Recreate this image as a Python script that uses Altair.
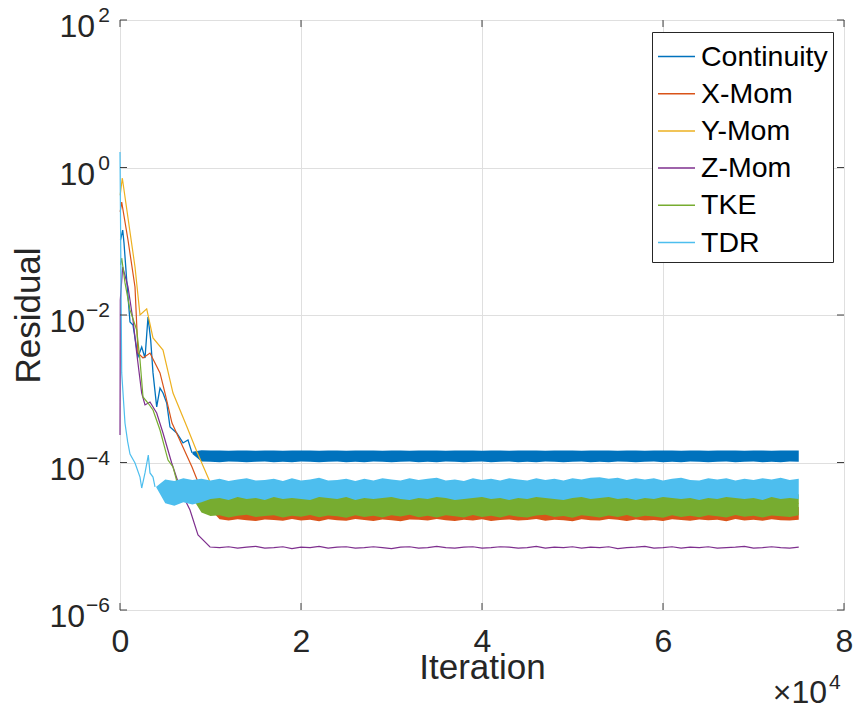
import altair as alt
import pandas as pd

F = "Liberation Sans, Arial, Helvetica, sans-serif"
TXT = "#262626"

SERIES = ["Continuity", "X-Mom", "Y-Mom", "Z-Mom", "TKE", "TDR"]
COLORS = ["#0072BD", "#D95319", "#EDB120", "#7E2F8E", "#77AC30", "#4DBEEE"]

# ---- transient part: iteration / residual ----
CONT_IT = [55, 298, 442, 740, 1105, 1437, 1989, 2398, 2763, 3094, 3392, 3647, 4055, 4420, 4752, 5160, 5525, 6265, 6962, 7514, 7956]
CONT_VAL = [0.104, 0.142, 0.0946, 0.0298, 0.00804, 0.00731, 0.0027, 0.00368, 0.00261, 0.0094, 0.00458, 0.00164,
            5.66e-4, 1.02e-3, 8.75e-4, 6.41e-4, 3.03e-4, 2.51e-4, 1.84e-4, 2.02e-4, 1.35e-4]
XMOM_IT = [20, 188, 884, 1658, 1989, 2542, 3315, 4420, 4973, 5746, 6851, 7956, 8619, 9614]
XMOM_VAL = [0.25, 0.34, 0.104, 0.024, 0.00305, 0.00261, 0.00305, 0.00164, 8.75e-4, 3.43e-4, 1.73e-4, 8.7e-5, 5.44e-5, 2.82e-5]
YMOM_IT = [20, 254, 1658, 2210, 2950, 3647, 4752, 5857, 7404, 8509, 9945]
YMOM_VAL = [0.42, 0.72, 0.0448, 0.010, 0.0121, 0.00488, 0.00335, 8.75e-4, 3.03e-4, 1.39e-4, 5.44e-5]
ZMOM_IT = [0, 33, 298, 884, 1437, 1845, 2398, 2763, 3315, 4055, 4752, 5713, 6818, 7735, 8619, 9945]
ZMOM_VAL = [2.36e-4, 0.016, 0.0448, 0.024, 0.00855, 0.00305, 8.75e-4, 6.03e-4, 6.61e-4, 4.69e-4, 2.51e-4,
            9.84e-5, 3.86e-5, 2.27e-5, 1.04e-5, 7.15e-6]
TKE_IT = [55, 188, 553, 1105, 1845, 2210, 2542, 3094, 3647, 4420, 5304, 5857, 6299, 7735]
TKE_VAL = [0.0477, 0.0593, 0.0272, 0.0117, 0.00627, 0.00245, 7.73e-4, 6.41e-4, 5.15e-4, 2.76e-4, 1.08e-4, 8.7e-5, 5.44e-5, 3.41e-5]
TDR_IT = [0, 188, 553, 850, 1105, 1658, 2210, 2398, 2763, 3127, 3315, 3647, 3868]
TDR_VAL = [1.62, 1.64e-3, 3.4e-4, 1.9e-4, 1.3e-4, 9.84e-5, 6.35e-5, 4.51e-5, 7.21e-5, 1.26e-4, 7.21e-5, 6.35e-5, 4.66e-5]

# ---- steady part: one value every 1000 iterations ----
CONT_START = 8000   # x 1e-4
CONT_HI = [1.40, 1.47, 1.45, 1.46, 1.44, 1.45, 1.46, 1.44, 1.45, 1.46,
           1.44, 1.45, 1.46, 1.45, 1.44, 1.46, 1.45, 1.44, 1.45, 1.46,
           1.45, 1.44, 1.46, 1.45, 1.44, 1.45, 1.46, 1.45, 1.44, 1.45,
           1.46, 1.45, 1.44, 1.45, 1.46, 1.44, 1.45, 1.46, 1.45, 1.44,
           1.45, 1.46, 1.45, 1.44, 1.45, 1.46, 1.45, 1.44, 1.46, 1.45,
           1.44, 1.45, 1.46, 1.45, 1.44, 1.45, 1.46, 1.44, 1.45, 1.46,
           1.45, 1.44, 1.46, 1.45, 1.44, 1.45, 1.46, 1.45]
CONT_LO = [1.30, 1.03, 1.02, 1.01, 1.03, 1.02, 1.01, 1.02, 1.03, 1.01,
           1.02, 1.01, 1.03, 1.02, 1.01, 1.02, 1.03, 1.01, 1.02, 1.01,
           1.03, 1.02, 1.01, 1.02, 1.03, 1.01, 1.02, 1.01, 1.03, 1.02,
           1.01, 1.02, 1.03, 1.01, 1.02, 1.03, 1.01, 1.02, 1.01, 1.03,
           1.02, 1.01, 1.02, 1.03, 1.01, 1.02, 1.01, 1.03, 1.02, 1.01,
           1.02, 1.03, 1.01, 1.02, 1.01, 1.03, 1.02, 1.01, 1.02, 1.03,
           1.01, 1.02, 1.03, 1.01, 1.02, 1.01, 1.03, 1.02]
XMOM_START = 10000  # x 1e-5
XMOM_HI = [2.6, 2.4, 2.3, 2.5, 2.4, 2.3, 2.4, 2.5, 2.3, 2.4,
           2.5, 2.3, 2.4, 2.3, 2.5, 2.4, 2.3, 2.4, 2.5, 2.4,
           2.3, 2.4, 2.5, 2.3, 2.4, 2.5, 2.4, 2.3, 2.4, 2.5,
           2.3, 2.4, 2.5, 2.4, 2.3, 2.4, 2.5, 2.3, 2.4, 2.4,
           2.5, 2.3, 2.4, 2.5, 2.4, 2.3, 2.4, 2.5, 2.3, 2.4,
           2.4, 2.5, 2.3, 2.4, 2.5, 2.4, 2.3, 2.4, 2.5, 2.3,
           2.4, 2.5, 2.4, 2.3, 2.4, 2.5]
XMOM_LO = [2.30, 1.70, 1.64, 1.70, 1.65, 1.61, 1.69, 1.66, 1.62, 1.71,
           1.64, 1.68, 1.60, 1.70, 1.65, 1.62, 1.71, 1.66, 1.61, 1.69,
           1.65, 1.60, 1.69, 1.67, 1.63, 1.72, 1.65, 1.61, 1.68, 1.64,
           1.70, 1.61, 1.66, 1.69, 1.63, 1.66, 1.71, 1.62, 1.68, 1.65,
           1.60, 1.70, 1.65, 1.63, 1.71, 1.67, 1.61, 1.69, 1.64, 1.66,
           1.61, 1.70, 1.66, 1.62, 1.69, 1.65, 1.68, 1.60, 1.71, 1.64,
           1.67, 1.62, 1.70, 1.65, 1.63, 1.68]
YMOM_START = 11000  # x 1e-5
YMOM_SS = [2.8, 2.5, 2.9, 2.4, 2.7, 2.6, 3.0, 2.5, 2.8, 2.3,
           2.7, 2.9, 2.4, 2.6, 2.8, 2.5, 3.0, 2.7, 2.4, 2.9,
           2.6, 2.8, 2.3, 2.7, 2.5, 2.9, 2.6, 2.8, 2.4, 3.0,
           2.7, 2.5, 2.9, 2.6, 2.8, 2.4, 2.7, 2.9, 2.5, 2.6,
           2.8, 2.3, 2.7, 3.0, 2.5, 2.8, 2.6, 2.9, 2.4, 2.7,
           2.5, 2.8, 2.6, 3.0, 2.4, 2.7, 2.9, 2.5, 2.8, 2.6,
           2.7, 2.4, 2.9, 2.6, 2.8]
ZMOM_START = 11000  # x 1e-6
ZMOM_SS = [7.0, 7.2, 6.9, 7.1, 7.3, 6.9, 7.0, 7.2, 6.8, 7.1,
           7.0, 7.3, 6.9, 7.1, 7.2, 6.9, 7.0, 7.2, 7.0, 6.8,
           7.1, 7.2, 6.9, 7.0, 7.3, 7.0, 6.9, 7.1, 7.2, 6.9,
           7.0, 7.2, 7.1, 6.9, 7.0, 7.3, 6.9, 7.1, 7.0, 7.2,
           6.9, 7.1, 7.0, 7.2, 6.8, 7.0, 7.1, 7.3, 6.9, 7.0,
           7.2, 6.9, 7.1, 7.0, 7.2, 6.9, 7.0, 7.1, 7.3, 6.9,
           7.0, 7.2, 7.0, 6.9, 7.1]
TKE_START = 8000    # x 1e-5
TKE_HI = [3.4, 3.7, 3.8, 3.6, 3.9, 3.7, 3.8, 3.6, 3.9, 3.7,
          3.8, 3.6, 3.7, 3.9, 3.8, 3.6, 3.7, 3.8, 3.9, 3.7,
          3.6, 3.8, 3.7, 3.9, 3.6, 3.8, 3.7, 3.8, 3.9, 3.6,
          3.7, 3.8, 3.6, 3.9, 3.7, 3.8, 3.7, 3.6, 3.9, 3.8,
          3.7, 3.6, 3.8, 3.9, 3.7, 3.8, 3.6, 3.7, 3.9, 3.8,
          3.6, 3.7, 3.8, 3.9, 3.7, 3.6, 3.8, 3.7, 3.9, 3.8,
          3.7, 3.6, 3.8, 3.9, 3.7, 3.8, 3.6, 3.7]
TKE_LO = [3.30, 2.10, 1.88, 1.93, 1.80, 1.90, 1.95, 1.82, 1.88, 1.92,
          1.79, 1.90, 1.84, 1.94, 1.81, 1.91, 1.86, 1.78, 1.93, 1.83,
          1.90, 1.79, 1.92, 1.85, 1.95, 1.81, 1.89, 1.80, 1.92, 1.87,
          1.79, 1.94, 1.82, 1.90, 1.80, 1.93, 1.84, 1.79, 1.91, 1.95,
          1.82, 1.88, 1.78, 1.92, 1.86, 1.80, 1.91, 1.83, 1.94, 1.80,
          1.90, 1.85, 1.78, 1.93, 1.82, 1.90, 1.81, 1.92, 1.87, 1.79,
          1.94, 1.84, 1.89, 1.80, 1.91, 1.86, 1.82, 1.93]
TDR_START = 4000    # x 1e-5
TDR_HI = [4.7, 5.9, 5.6, 6.1, 5.8, 6.0, 5.7, 6.0, 5.6, 5.9,
          6.1, 5.7, 5.8, 6.0, 5.6, 6.1, 5.7, 5.9, 6.2, 5.7,
          5.8, 6.0, 5.6, 6.0, 5.7, 6.1, 5.9, 5.7, 6.1, 5.8,
          6.0, 6.2, 5.7, 5.9, 5.6, 6.1, 5.8, 6.0, 5.7, 6.1,
          5.9, 5.7, 6.1, 5.8, 6.0, 5.7, 6.1, 5.9, 6.2, 6.3,
          6.0, 6.2, 5.8, 6.1, 5.9, 6.1, 5.7, 6.0, 6.2, 5.8,
          5.7, 6.1, 5.9, 6.1, 5.7, 6.0, 5.8, 6.1, 5.9, 6.2,
          5.8, 6.0]
TDR_LO = [4.6, 2.8, 2.6, 2.9, 2.7, 2.9, 3.2, 3.3, 3.1, 3.4,
          3.2, 3.3, 3.1, 3.4, 3.2, 3.3, 3.2, 3.1, 3.4, 3.3,
          3.2, 3.4, 3.1, 3.3, 3.2, 3.3, 3.4, 3.2, 3.1, 3.3,
          3.2, 3.4, 3.3, 3.1, 3.2, 3.3, 3.4, 3.2, 3.3, 3.1,
          3.3, 3.2, 3.4, 3.3, 3.2, 3.1, 3.3, 3.4, 3.2, 3.3,
          3.4, 3.2, 3.3, 3.1, 3.3, 3.2, 3.4, 3.3, 3.2, 3.3,
          3.1, 3.3, 3.2, 3.4, 3.3, 3.2, 3.3, 3.1, 3.4, 3.2,
          3.3, 3.2]

Y_TICKS = [1e2, 1.0, 1e-2, 1e-4, 1e-6]
Y_EXP = ["2", "0", "\u22122", "\u22124", "\u22126"]
X_TICKS = [0, 20000, 40000, 60000, 80000]
X_MULT = "\u00d710"
X_MULT_EXP = "4"

# ---- tables ----
line_rows = []
def add_line(name, its, vals):
    for i, v in zip(its, vals):
        line_rows.append({"series": name, "it": i, "val": v})

add_line("Continuity", CONT_IT, CONT_VAL)
add_line("X-Mom", XMOM_IT, XMOM_VAL)
add_line("Y-Mom", YMOM_IT, YMOM_VAL)
add_line("Y-Mom", [YMOM_START + 1000 * k for k in range(len(YMOM_SS))], [v * 1e-5 for v in YMOM_SS])
add_line("Z-Mom", ZMOM_IT, ZMOM_VAL)
add_line("Z-Mom", [ZMOM_START + 1000 * k for k in range(len(ZMOM_SS))], [v * 1e-6 for v in ZMOM_SS])
add_line("TKE", TKE_IT, TKE_VAL)
add_line("TDR", TDR_IT, TDR_VAL)
lines = pd.DataFrame(line_rows)

band_rows = []
def add_band(name, start, lo, hi, unit):
    for k, (a, b) in enumerate(zip(lo, hi)):
        band_rows.append({"series": name, "it": start + 1000 * k, "lo": a * unit, "hi": b * unit})

add_band("Continuity", CONT_START, CONT_LO, CONT_HI, 1e-4)
add_band("X-Mom", XMOM_START, XMOM_LO, XMOM_HI, 1e-5)
add_band("TKE", TKE_START, TKE_LO, TKE_HI, 1e-5)
add_band("TDR", TDR_START, TDR_LO, TDR_HI, 1e-5)
bands = pd.DataFrame(band_rows)

yt = pd.DataFrame({"val": Y_TICKS, "exp": Y_EXP})
xt = pd.DataFrame({"it": X_TICKS})

# ---- scales / axes ----
xscale = alt.Scale(domain=[0, 80000], nice=False, zero=False)
yscale = alt.Scale(type="log", domain=[1e-6, 1e2], nice=False)
x_axis = alt.Axis(values=X_TICKS, labelExpr="datum.value / 10000", labelFontSize=32, labelFont=F,
                  labelColor=TXT, labelPadding=16, labelFlush=False, labelOverlap=False,
                  ticks=False, domain=False, grid=True, gridColor="#dfdfdf", gridWidth=1,
                  title="Iteration", titleFontSize=35, titleFont=F, titleFontWeight="normal",
                  titleColor=TXT, titleX=362, titleY=68, titleBaseline="alphabetic", titleAlign="center")
y_axis = alt.Axis(values=Y_TICKS, labels=False, ticks=False, domain=False, grid=True,
                  gridColor="#dfdfdf", gridWidth=1,
                  title="Residual", titleFontSize=35, titleFont=F, titleFontWeight="normal",
                  titleColor=TXT, titleX=-81, titleY=295, titleAngle=270,
                  titleBaseline="alphabetic", titleAlign="center")
legend = alt.Legend(title=None, orient="none", legendX=532, legendY=12, symbolType="stroke",
                    symbolSize=1369, symbolStrokeWidth=1.5, labelFontSize=28.5, labelFont=F,
                    labelColor="#000000", strokeColor=TXT, fillColor="white", padding=5,
                    rowPadding=3.2, labelOffset=5, symbolOpacity=1)
color = alt.Color("series:N", scale=alt.Scale(domain=SERIES, range=COLORS), legend=legend)

X = alt.X("it:Q", scale=xscale, axis=x_axis)

layers = []
for s in SERIES:
    layers.append(
        alt.Chart(lines).transform_filter(alt.datum.series == s)
        .mark_line(strokeWidth=1.3 if s == "Continuity" else 1.2)
        .encode(x=X, y=alt.Y("val:Q", scale=yscale, axis=y_axis), color=color)
    )
    if s in set(bands["series"]):
        layers.append(
            alt.Chart(bands).transform_filter(alt.datum.series == s)
            .mark_area(opacity=1)
            .encode(x=X, y=alt.Y("lo:Q", scale=yscale, axis=y_axis), y2="hi:Q", color=color)
        )

Yt = alt.Y("val:Q", scale=yscale, axis=y_axis)
Xt = alt.X("it:Q", scale=xscale, axis=x_axis)
tick_col = "#404040"
layers += [
    alt.Chart(yt).mark_rule(color=tick_col, strokeWidth=1).encode(y=Yt, x=alt.value(0), x2=alt.value(7)),
    alt.Chart(yt).mark_rule(color=tick_col, strokeWidth=1).encode(y=Yt, x=alt.value(717), x2=alt.value(724)),
    alt.Chart(xt).mark_rule(color=tick_col, strokeWidth=1).encode(x=Xt, y=alt.value(590), y2=alt.value(583)),
    alt.Chart(xt).mark_rule(color=tick_col, strokeWidth=1).encode(x=Xt, y=alt.value(0), y2=alt.value(7)),
    alt.Chart(yt).transform_filter("length(datum.exp) == 1")
      .mark_text(text="10", align="right", baseline="alphabetic", dy=17, fontSize=32, font=F, color=TXT)
      .encode(y=Yt, x=alt.value(-25)),
    alt.Chart(yt).transform_filter("length(datum.exp) == 2")
      .mark_text(text="10", align="right", baseline="alphabetic", dy=17, fontSize=32, font=F, color=TXT)
      .encode(y=Yt, x=alt.value(-35)),
    alt.Chart(yt).mark_text(align="right", baseline="alphabetic", dy=2, fontSize=21, font=F, color=TXT)
      .encode(y=Yt, x=alt.value(-10), text="exp:N"),
    alt.Chart(pd.DataFrame({"t": [X_MULT]})).mark_text(align="right", baseline="alphabetic", fontSize=32, font=F, color=TXT)
      .encode(x=alt.value(707), y=alt.value(683), text="t:N"),
    alt.Chart(pd.DataFrame({"t": [X_MULT_EXP]})).mark_text(align="left", baseline="alphabetic", fontSize=21, font=F, color=TXT)
      .encode(x=alt.value(709), y=alt.value(669), text="t:N"),
]

chart = (
    alt.layer(*layers)
    .properties(width=724, height=590, background="white",
                autosize=alt.AutoSizeParams(type="none"),
                padding={"left": 120, "top": 20, "right": 13, "bottom": 100})
    .configure_view(stroke="#404040", strokeWidth=1)
)

chart.save("out.html", embed_options={"renderer": "svg", "actions": False})
